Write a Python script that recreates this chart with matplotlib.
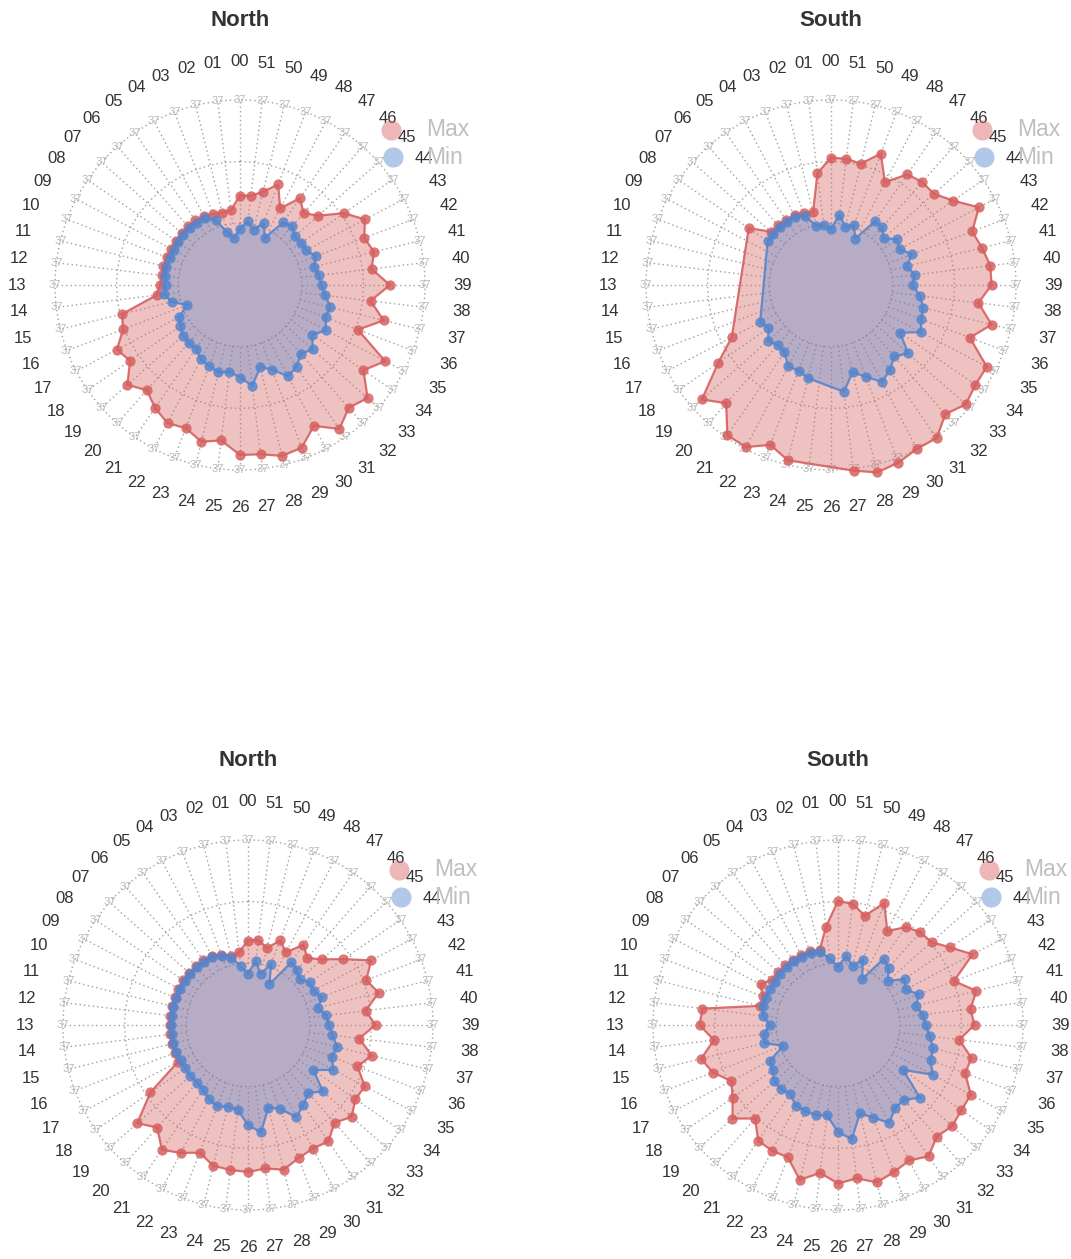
import numpy as np
import matplotlib.pyplot as plt
from matplotlib.lines import Line2D

plt.rcParams['font.family'] = ['Liberation Sans', 'DejaVu Sans']

nan = np.nan

# Week labels around each radar (00 at the top, counter-clockwise)
weeks = [f"{i:02d}" for i in range(52)]
axis_max = 37
panel_titles = ["North", "South", "North", "South"]
series_names = ["Max", "Min"]

north_a_max = [17.9, 15.1, 14.9, 15.2, 15.6, 15.7, 15.7, 15.6, 15.6, 15.6, 15.7, 15.8, 15.8,
               16.0, 16.8, 24.3, 25.0, 27.8, 26.7, 30.1, 28.1, 29.9, 31.2, 30.6, 32.3, 31.3,
               34.0, 34.1, 35.2, 34.8, 31.8, 35.0, 32.8, 34.1, 30.0, 32.8, 25.2, 29.6, 26.3,
               30.0, 26.5, 27.6, 26.6, 28.2, 25.3, 20.9, 19.2, 21.1, 17.3, 21.5, 19.2, 18.0]
north_a_min = [11.3, 9.4, 11.0, 13.8, 15.1, 15.1, 15.2, 15.2, 15.1, 15.0, 15.0, 15.2, 15.1,
               14.9, 15.3, 14.1, 11.3, 13.8, 14.5, 15.3, 15.5, 15.5, 16.8, 17.4, 18.0, 17.5,
               18.5, 20.3, 16.9, 18.1, 20.6, 19.9, 18.4, 19.4, 17.6, 19.4, 18.3, 18.6, 17.2,
               16.3, 15.9, 15.3, 16.2, 15.0, 14.9, 14.7, 15.7, 15.2, 10.7, 13.3, 11.4, 12.8]

south_a_max = [25.5, 22.5, 15.0, 15.5, 15.7, 15.8, 15.9, 16.1, 20.0, nan, nan, nan, nan,
               nan, nan, nan, nan, 22.4, 27.4, 34.5, 31.6, 36.5, 36.6, 34.2, 36.1, nan,
               nan, 37.4, 38.6, 38.0, 37.0, 37.2, 34.5, 36.0, 35.1, 35.2, 29.7, 33.1, 29.7,
               32.1, 32.1, 31.1, 30.2, 33.4, 29.7, 27.5, 27.5, 26.9, 23.2, 28.1, 25.0, 25.4]
south_a_min = [11.3, 12.0, 12.2, 14.8, 15.3, 15.4, 15.4, 15.4, 15.4, nan, nan, nan, nan,
               nan, nan, nan, nan, 16.0, 15.2, 16.8, 16.1, 16.4, 18.4, 18.3, 19.2, nan,
               nan, 21.5, 18.0, 19.6, 21.9, 20.7, 19.1, 20.6, 16.8, 20.3, 19.3, 19.0, 17.9,
               16.3, 16.9, 15.6, 17.3, 15.5, 16.1, 14.1, 15.4, 15.5, 10.5, 12.8, 12.0, 14.1]

north_b_max = [16.9, 14.7, 14.2, 15.0, 15.6, 15.7, 15.7, 15.7, 15.7, 15.7, 15.7, 15.7, 15.7,
               15.7, 15.7, 15.7, 15.7, 15.8, 23.7, 29.6, 27.4, 30.3, 28.9, 27.3, 29.0, 29.2,
               29.4, 28.9, 29.8, 28.5, 27.9, 28.3, 26.1, 27.7, 26.1, 26.4, 23.4, 25.5, 22.4,
               25.5, 23.7, 26.9, 25.3, 27.8, 23.2, 19.8, 17.9, 19.5, 16.4, 18.1, 15.8, 17.2]
north_b_min = [10.3, 11.8, 13.9, 14.7, 15.3, 15.4, 15.4, 15.4, 15.4, 15.4, 15.4, 15.4, 15.4,
               15.4, 15.4, 15.4, 15.4, 15.2, 15.3, 15.4, 15.4, 15.8, 16.8, 17.4, 16.8, 17.1,
               20.0, 21.6, 17.0, 17.9, 20.8, 19.5, 18.2, 20.0, 15.9, 19.3, 17.9, 18.4, 17.0,
               16.2, 15.8, 14.5, 15.8, 14.8, 15.0, 13.8, 14.8, 15.3, 9.2, 13.1, 10.5, 12.9]

south_b_max = [24.8, 19.8, 15.4, 15.8, 15.9, 15.9, 15.9, 16.0, 16.0, 17.5, 16.1, 16.0, 27.3,
               27.7, 25.0, 28.2, 26.8, 24.1, 25.6, 28.2, 25.0, 28.1, 28.4, 28.3, 31.9, 29.8,
               31.7, 30.9, 32.4, 31.5, 30.6, 31.9, 29.8, 30.5, 30.0, 30.0, 27.2, 27.5, 24.4,
               27.3, 26.7, 28.5, 24.8, 30.4, 27.3, 25.0, 24.8, 23.8, 21.2, 26.1, 22.5, 24.4]
south_b_min = [11.7, 13.4, 15.1, 15.4, 15.4, 15.5, 15.5, 15.5, 15.3, 15.4, 15.5, 15.5, 15.2,
               13.7, 14.9, 15.2, 11.7, 15.4, 15.9, 17.0, 17.2, 16.8, 18.2, 18.4, 18.6, 18.2,
               21.4, 23.0, 18.2, 19.8, 22.1, 20.1, 20.0, 21.9, 15.8, 21.4, 19.8, 19.6, 18.5,
               17.6, 17.1, 16.1, 17.3, 15.3, 16.2, 13.3, 15.3, 16.1, 10.4, 14.0, 12.2, 13.9]

panel_series = [(north_a_max, north_a_min), (south_a_max, south_a_min),
                (north_b_max, north_b_min), (south_b_max, south_b_min)]

W, H, DPI = 1071, 1259, 100
centers = [(240, 285), (831, 285), (248, 1025), (838, 1025)]
title_y = [20, 20, 760, 760]
R_LIM = 40          # radial limit of each polar axes
R_PIX = 200         # pixel radius that R_LIM spans
label_r = 44.6

max_color = "#d6605f"
min_color = "#5585cc"
grid_color = "#a0a0a0"

fig = plt.figure(figsize=(W / DPI, H / DPI), dpi=DPI)
fig.patch.set_facecolor("white")

theta = np.arange(52) * 2 * np.pi / 52
circle_t = np.linspace(0, 2 * np.pi, 400)


def draw_series(ax, values, color, fill_alpha, z):
    v = np.asarray(values, dtype=float)
    ok = ~np.isnan(v)
    t = np.append(theta[ok], theta[ok][0])
    r = np.append(v[ok], v[ok][0])
    ax.fill(t, r, color=color, alpha=fill_alpha, lw=0, zorder=z)
    ax.plot(t, r, color=color, lw=1.6, alpha=0.9, zorder=z + 0.1)
    ax.plot(theta[ok], v[ok], ls="none", marker="o", ms=7.4, mew=0,
            color=color, alpha=0.85, zorder=z + 0.2)


for i, (cx, cy) in enumerate(centers):
    ax = fig.add_axes([(cx - R_PIX) / W, (H - cy - R_PIX) / H,
                       2 * R_PIX / W, 2 * R_PIX / H], projection="polar")
    ax.set_theta_offset(np.pi / 2)
    ax.set_theta_direction(1)
    ax.set_ylim(0, R_LIM)
    ax.set_axis_off()

    # dotted split circles and spokes
    for lvl in (axis_max / 3, 2 * axis_max / 3, axis_max):
        ax.plot(circle_t, np.full_like(circle_t, lvl), ls=(0, (1, 2.2)),
                color=grid_color, lw=1.0, zorder=1)
    for t in theta:
        ax.plot([t, t], [axis_max / 3, axis_max], ls=(0, (1, 2.2)),
                color=grid_color, lw=1.0, zorder=1)
        ax.text(t, axis_max, str(axis_max), ha="center", va="center",
                fontsize=8, color="#b8b8b8", zorder=2)

    for t, wk in zip(theta, weeks):
        ax.text(t, label_r, wk, ha="center", va="center", fontsize=12,
                color="#333333", clip_on=False, zorder=6)

    mx, mn = panel_series[i]
    draw_series(ax, mx, max_color, 0.38, 3)
    draw_series(ax, mn, min_color, 0.36, 4)

    fig.text(cx / W, 1 - title_y[i] / H, panel_titles[i], ha="center",
             va="center", fontsize=16, fontweight="bold", color="#333333")

    # legend
    for name, color, dy, dx in ((series_names[0], max_color, -155, 151),
                                (series_names[1], min_color, -128, 153)):
        fig.add_artist(Line2D([(cx + dx) / W], [1 - (cy + dy) / H], marker="o",
                              ms=14.5, mew=0, color=color, alpha=0.45,
                              transform=fig.transFigure, zorder=5))
        fig.text((cx + 186) / W, 1 - (cy + dy) / H, name, ha="left", va="center",
                 fontsize=16.5, color="#bfbfbf", zorder=5)

fig.savefig("out.png", dpi=DPI, facecolor="white")
